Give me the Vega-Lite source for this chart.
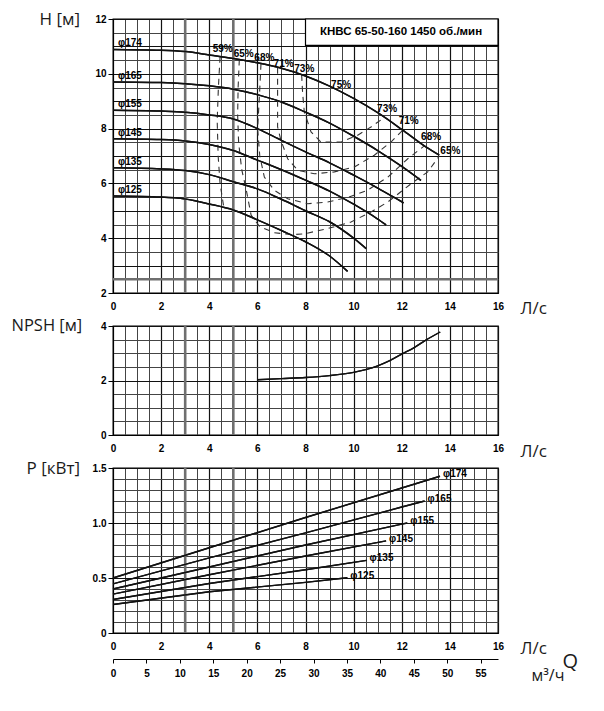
{
  "$schema": "https://vega.github.io/schema/vega-lite/v6.json",
  "background": "white",
  "padding": {"left": 10, "top": 9, "right": 5, "bottom": 5},
  "bounds": "flush",
  "spacing": 33,
  "config": {
    "view": {"stroke": "#000", "strokeWidth": 1.3},
    "font": "Liberation Sans",
    "axis": {
      "labelFont": "Liberation Sans", "labelFontSize": 10, "labelFontWeight": "bold", "labelColor": "#000",
      "titleFont": "Open Sans", "titleFontWeight": "normal", "titleColor": "#1a1a1a", "titleFontSize": 17,
      "domainColor": "#000", "tickColor": "#000", "labelFlush": false, "labelOverlap": false, "gridOpacity": 1
    },
    "axisX": {"tickSize": 4, "labelPadding": 4, "titleAlign": "left", "titleBaseline": "middle", "titleX": 407, "titleY": 15, "titleAngle": 0},
    "axisY": {"tickSize": 5, "labelPadding": 2, "titleAngle": 0, "titleAlign": "left", "titleBaseline": "middle", "titleY": 0}
  },
  "datasets": {
    "thick": [{"q": 3}, {"q": 5}],
    "base": [{"v": 2.5}],
    "box": [{"q": 8, "q2": 16, "v": 11.04, "v2": 12}],
    "boxText": [{"q": 11.97, "v": 11.53, "t": "КНВС 65-50-160 1450 об./мин"}],
    "head": [
      {"d": "φ174", "q": 0, "v": 10.89}, {"d": "φ174", "q": 2, "v": 10.86}, {"d": "φ174", "q": 3, "v": 10.81}, {"d": "φ174", "q": 4, "v": 10.69}, {"d": "φ174", "q": 5, "v": 10.56}, {"d": "φ174", "q": 6, "v": 10.4}, {"d": "φ174", "q": 7, "v": 10.2}, {"d": "φ174", "q": 8, "v": 9.92}, {"d": "φ174", "q": 9, "v": 9.55}, {"d": "φ174", "q": 10, "v": 9.1}, {"d": "φ174", "q": 11, "v": 8.58}, {"d": "φ174", "q": 12, "v": 7.97}, {"d": "φ174", "q": 13, "v": 7.33}, {"d": "φ174", "q": 13.56, "v": 7.03},
      {"d": "φ165", "q": 0, "v": 9.7}, {"d": "φ165", "q": 2, "v": 9.68}, {"d": "φ165", "q": 3, "v": 9.64}, {"d": "φ165", "q": 4, "v": 9.56}, {"d": "φ165", "q": 5, "v": 9.44}, {"d": "φ165", "q": 6, "v": 9.24}, {"d": "φ165", "q": 7, "v": 8.97}, {"d": "φ165", "q": 8, "v": 8.6}, {"d": "φ165", "q": 9, "v": 8.2}, {"d": "φ165", "q": 10, "v": 7.72}, {"d": "φ165", "q": 11, "v": 7.2}, {"d": "φ165", "q": 12, "v": 6.62}, {"d": "φ165", "q": 12.8, "v": 6.11},
      {"d": "φ155", "q": 0, "v": 8.67}, {"d": "φ155", "q": 2, "v": 8.64}, {"d": "φ155", "q": 3, "v": 8.6}, {"d": "φ155", "q": 4, "v": 8.5}, {"d": "φ155", "q": 5, "v": 8.35}, {"d": "φ155", "q": 6, "v": 8.0}, {"d": "φ155", "q": 7, "v": 7.57}, {"d": "φ155", "q": 8, "v": 7.15}, {"d": "φ155", "q": 9, "v": 6.75}, {"d": "φ155", "q": 10, "v": 6.3}, {"d": "φ155", "q": 11, "v": 5.83}, {"d": "φ155", "q": 12, "v": 5.33}, {"d": "φ155", "q": 12.08, "v": 5.29},
      {"d": "φ145", "q": 0, "v": 7.63}, {"d": "φ145", "q": 2, "v": 7.6}, {"d": "φ145", "q": 3, "v": 7.55}, {"d": "φ145", "q": 4, "v": 7.42}, {"d": "φ145", "q": 5, "v": 7.2}, {"d": "φ145", "q": 6, "v": 6.85}, {"d": "φ145", "q": 7, "v": 6.5}, {"d": "φ145", "q": 8, "v": 6.12}, {"d": "φ145", "q": 9, "v": 5.72}, {"d": "φ145", "q": 10, "v": 5.24}, {"d": "φ145", "q": 11, "v": 4.7}, {"d": "φ145", "q": 11.35, "v": 4.49},
      {"d": "φ135", "q": 0, "v": 6.57}, {"d": "φ135", "q": 2, "v": 6.53}, {"d": "φ135", "q": 3, "v": 6.47}, {"d": "φ135", "q": 4, "v": 6.32}, {"d": "φ135", "q": 5, "v": 6.06}, {"d": "φ135", "q": 6, "v": 5.8}, {"d": "φ135", "q": 7, "v": 5.42}, {"d": "φ135", "q": 8, "v": 5.0}, {"d": "φ135", "q": 9, "v": 4.6}, {"d": "φ135", "q": 10, "v": 4.0}, {"d": "φ135", "q": 10.52, "v": 3.62},
      {"d": "φ125", "q": 0, "v": 5.54}, {"d": "φ125", "q": 2, "v": 5.5}, {"d": "φ125", "q": 3, "v": 5.43}, {"d": "φ125", "q": 4, "v": 5.25}, {"d": "φ125", "q": 5, "v": 5.03}, {"d": "φ125", "q": 6, "v": 4.67}, {"d": "φ125", "q": 7, "v": 4.28}, {"d": "φ125", "q": 8, "v": 3.87}, {"d": "φ125", "q": 9, "v": 3.35}, {"d": "φ125", "q": 9.75, "v": 2.79}
    ],
    "eff": [
      {"lvl": "59%", "i": 0, "q": 4.45, "v": 10.62}, {"lvl": "59%", "i": 1, "q": 4.38, "v": 9.5}, {"lvl": "59%", "i": 2, "q": 4.33, "v": 8.3}, {"lvl": "59%", "i": 3, "q": 4.37, "v": 7.0}, {"lvl": "59%", "i": 4, "q": 4.45, "v": 6.0}, {"lvl": "59%", "i": 5, "q": 4.6, "v": 5.15},
      {"lvl": "65%", "i": 0, "q": 5.25, "v": 10.52}, {"lvl": "65%", "i": 1, "q": 5.2, "v": 9.5}, {"lvl": "65%", "i": 2, "q": 5.18, "v": 8.5}, {"lvl": "65%", "i": 3, "q": 5.22, "v": 7.5}, {"lvl": "65%", "i": 4, "q": 5.35, "v": 6.5}, {"lvl": "65%", "i": 5, "q": 5.53, "v": 5.8}, {"lvl": "65%", "i": 6, "q": 5.74, "v": 4.84}, {"lvl": "65%", "i": 7, "q": 6.1, "v": 4.42}, {"lvl": "65%", "i": 8, "q": 6.7, "v": 4.2}, {"lvl": "65%", "i": 9, "q": 7.47, "v": 4.13}, {"lvl": "65%", "i": 10, "q": 7.95, "v": 4.16}, {"lvl": "65%", "i": 11, "q": 8.92, "v": 4.35}, {"lvl": "65%", "i": 12, "q": 9.89, "v": 4.59}, {"lvl": "65%", "i": 13, "q": 10.72, "v": 4.96}, {"lvl": "65%", "i": 14, "q": 11.42, "v": 5.32}, {"lvl": "65%", "i": 15, "q": 12.39, "v": 5.99}, {"lvl": "65%", "i": 16, "q": 13.08, "v": 6.42}, {"lvl": "65%", "i": 17, "q": 13.56, "v": 7.0},
      {"lvl": "68%", "i": 0, "q": 6.15, "v": 10.37}, {"lvl": "68%", "i": 1, "q": 6.08, "v": 9.1}, {"lvl": "68%", "i": 2, "q": 6.01, "v": 8.0}, {"lvl": "68%", "i": 3, "q": 6.1, "v": 7.0}, {"lvl": "68%", "i": 4, "q": 6.29, "v": 6.23}, {"lvl": "68%", "i": 5, "q": 6.7, "v": 5.75}, {"lvl": "68%", "i": 6, "q": 7.26, "v": 5.44}, {"lvl": "68%", "i": 7, "q": 8.09, "v": 5.26}, {"lvl": "68%", "i": 8, "q": 8.92, "v": 5.32}, {"lvl": "68%", "i": 9, "q": 9.8, "v": 5.5}, {"lvl": "68%", "i": 10, "q": 10.58, "v": 5.75}, {"lvl": "68%", "i": 11, "q": 11.42, "v": 6.23}, {"lvl": "68%", "i": 12, "q": 12.25, "v": 6.9}, {"lvl": "68%", "i": 13, "q": 12.94, "v": 7.37},
      {"lvl": "71%", "i": 0, "q": 6.84, "v": 10.22}, {"lvl": "71%", "i": 1, "q": 6.84, "v": 9.0}, {"lvl": "71%", "i": 2, "q": 6.84, "v": 8.06}, {"lvl": "71%", "i": 3, "q": 6.98, "v": 7.57}, {"lvl": "71%", "i": 4, "q": 7.26, "v": 6.9}, {"lvl": "71%", "i": 5, "q": 7.68, "v": 6.48}, {"lvl": "71%", "i": 6, "q": 8.37, "v": 6.35}, {"lvl": "71%", "i": 7, "q": 9.2, "v": 6.42}, {"lvl": "71%", "i": 8, "q": 10.03, "v": 6.6}, {"lvl": "71%", "i": 9, "q": 10.86, "v": 7.03}, {"lvl": "71%", "i": 10, "q": 11.55, "v": 7.51}, {"lvl": "71%", "i": 11, "q": 12.04, "v": 7.94},
      {"lvl": "73%", "i": 0, "q": 7.84, "v": 9.96}, {"lvl": "73%", "i": 1, "q": 7.88, "v": 9.3}, {"lvl": "73%", "i": 2, "q": 7.95, "v": 8.61}, {"lvl": "73%", "i": 3, "q": 8.23, "v": 7.88}, {"lvl": "73%", "i": 4, "q": 8.64, "v": 7.51}, {"lvl": "73%", "i": 5, "q": 9.48, "v": 7.51}, {"lvl": "73%", "i": 6, "q": 10.17, "v": 7.76}, {"lvl": "73%", "i": 7, "q": 10.72, "v": 8.06}, {"lvl": "73%", "i": 8, "q": 11.3, "v": 8.42}
    ],
    "effLab": [
      {"t": "59%", "q": 4.56, "v": 10.9}, {"t": "65%", "q": 5.43, "v": 10.73}, {"t": "68%", "q": 6.29, "v": 10.58}, {"t": "71%", "q": 7.09, "v": 10.37}, {"t": "73%", "q": 7.95, "v": 10.16},
      {"t": "75%", "q": 9.48, "v": 9.58}, {"t": "73%", "q": 11.39, "v": 8.73}, {"t": "71%", "q": 12.29, "v": 8.27}, {"t": "68%", "q": 13.22, "v": 7.69}, {"t": "65%", "q": 14.02, "v": 7.17}
    ],
    "npsh": [
      {"q": 6.0, "v": 2.03}, {"q": 7, "v": 2.07}, {"q": 8, "v": 2.11}, {"q": 9, "v": 2.18}, {"q": 10, "v": 2.3}, {"q": 10.5, "v": 2.4}, {"q": 11, "v": 2.54}, {"q": 11.5, "v": 2.73}, {"q": 12, "v": 2.97}, {"q": 12.5, "v": 3.2}, {"q": 13, "v": 3.48}, {"q": 13.6, "v": 3.78}
    ],
    "power": [
      {"d": "φ174", "q": 0, "v": 0.5}, {"d": "φ174", "q": 4, "v": 0.775}, {"d": "φ174", "q": 8, "v": 1.05}, {"d": "φ174", "q": 12, "v": 1.318}, {"d": "φ174", "q": 13.59, "v": 1.425},
      {"d": "φ165", "q": 0, "v": 0.447}, {"d": "φ165", "q": 4, "v": 0.683}, {"d": "φ165", "q": 8, "v": 0.91}, {"d": "φ165", "q": 12, "v": 1.145}, {"d": "φ165", "q": 12.95, "v": 1.2},
      {"d": "φ155", "q": 0, "v": 0.4}, {"d": "φ155", "q": 4, "v": 0.6}, {"d": "φ155", "q": 8, "v": 0.8}, {"d": "φ155", "q": 12, "v": 0.99}, {"d": "φ155", "q": 12.23, "v": 1.0},
      {"d": "φ145", "q": 0, "v": 0.353}, {"d": "φ145", "q": 4, "v": 0.53}, {"d": "φ145", "q": 8, "v": 0.7}, {"d": "φ145", "q": 11.35, "v": 0.837},
      {"d": "φ135", "q": 0, "v": 0.304}, {"d": "φ135", "q": 4, "v": 0.45}, {"d": "φ135", "q": 8, "v": 0.575}, {"d": "φ135", "q": 10.54, "v": 0.66},
      {"d": "φ125", "q": 0, "v": 0.259}, {"d": "φ125", "q": 4, "v": 0.375}, {"d": "φ125", "q": 8, "v": 0.46}, {"d": "φ125", "q": 9.74, "v": 0.502}
    ],
    "qmark": [{"t": "Q"}]
  },
  "vconcat": [
    {
      "width": 385,
      "height": 274,
      "resolve": {"axis": {"x": "independent", "y": "independent"}},
      "layer": [
        {
          "data": {"name": "head"},
          "mark": {"type": "line", "color": "#111", "strokeWidth": 1.5, "interpolate": "monotone"},
          "encoding": {
            "x": {
              "field": "q", "type": "quantitative",
              "scale": {"domain": [0, 16], "nice": false},
              "axis": {
                "orient": "bottom", "title": "Л/с", "tickOpacity": 0,
                "values": [0, 0.5, 1, 1.5, 2, 2.5, 3, 3.5, 4, 4.5, 5, 5.5, 6, 6.5, 7, 7.5, 8, 8.5, 9, 9.5, 10, 10.5, 11, 11.5, 12, 12.5, 13, 13.5, 14, 14.5, 15, 15.5, 16],
                "labelExpr": "datum.value % 2 === 0 ? format(datum.value, 'd') : ''",
                "gridColor": {"condition": {"test": "datum.value % 2 === 0", "value": "#111"}, "value": "#444"},
                "gridWidth": {"condition": {"test": "datum.value % 2 === 0", "value": 1.2}, "value": 1}
              }
            },
            "y": {
              "field": "v", "type": "quantitative",
              "scale": {"domain": [2, 12], "nice": false, "zero": false},
              "axis": {
                "orient": "left", "title": "H [м]", "titleX": -74,
                "values": [2, 2.5, 3, 3.5, 4, 4.5, 5, 5.5, 6, 6.5, 7, 7.5, 8, 8.5, 9, 9.5, 10, 10.5, 11, 11.5, 12],
                "labelExpr": "datum.value % 2 === 0 ? format(datum.value, 'd') : ''",
                "tickOpacity": {"condition": {"test": "datum.value % 2 === 0", "value": 1}, "value": 0},
                "gridColor": {"condition": {"test": "datum.value % 1 === 0", "value": "#111"}, "value": "#444"},
                "gridWidth": {"condition": {"test": "datum.value % 1 === 0", "value": 1.2}, "value": 1}
              }
            },
            "detail": {"field": "d"}
          }
        },
        {
          "data": {"name": "thick"},
          "mark": {"type": "rule", "color": "#6f6f6f", "strokeWidth": 2.6},
          "encoding": {"x": {"field": "q", "type": "quantitative", "axis": null}}
        },
        {
          "data": {"name": "base"},
          "mark": {"type": "rule", "color": "#6f6f6f", "strokeWidth": 2.6},
          "encoding": {"y": {"field": "v", "type": "quantitative", "axis": null}}
        },
        {
          "data": {"name": "eff"},
          "mark": {"type": "line", "color": "#333", "strokeWidth": 1.1, "strokeDash": [6, 5]},
          "encoding": {
            "x": {"field": "q", "type": "quantitative", "axis": null},
            "y": {"field": "v", "type": "quantitative", "axis": null},
            "detail": {"field": "lvl"},
            "order": {"field": "i"}
          }
        },
        {
          "data": {"name": "head"},
          "mark": {"type": "line", "color": "#111", "strokeWidth": 1.5, "interpolate": "monotone"},
          "encoding": {
            "x": {"field": "q", "type": "quantitative", "axis": null},
            "y": {"field": "v", "type": "quantitative", "axis": null},
            "detail": {"field": "d"}
          }
        },
        {
          "data": {"name": "head"},
          "transform": [{"filter": "datum.q === 0"}],
          "mark": {"type": "text", "align": "left", "baseline": "middle", "dx": 5, "dy": -6, "font": "Liberation Sans", "fontWeight": "bold", "fontSize": 10, "color": "#000"},
          "encoding": {
            "x": {"field": "q", "type": "quantitative", "axis": null},
            "y": {"field": "v", "type": "quantitative", "axis": null},
            "text": {"field": "d"}
          }
        },
        {
          "data": {"name": "effLab"},
          "mark": {"type": "text", "align": "center", "baseline": "middle", "font": "Liberation Sans", "fontWeight": "bold", "fontSize": 10, "color": "#000"},
          "encoding": {
            "x": {"field": "q", "type": "quantitative", "axis": null},
            "y": {"field": "v", "type": "quantitative", "axis": null},
            "text": {"field": "t"}
          }
        },
        {
          "data": {"name": "box"},
          "mark": {"type": "rect", "fill": "white", "stroke": "#000", "strokeWidth": 1.2},
          "encoding": {
            "x": {"field": "q", "type": "quantitative", "axis": null},
            "x2": {"field": "q2"},
            "y": {"field": "v", "type": "quantitative", "axis": null},
            "y2": {"field": "v2"}
          }
        },
        {
          "data": {"name": "boxText"},
          "mark": {"type": "text", "align": "center", "baseline": "middle", "font": "Liberation Sans", "fontWeight": "bold", "fontSize": 11.5, "color": "#000"},
          "encoding": {
            "x": {"field": "q", "type": "quantitative", "axis": null},
            "y": {"field": "v", "type": "quantitative", "axis": null},
            "text": {"field": "t"}
          }
        }
      ]
    },
    {
      "width": 385,
      "height": 109,
      "resolve": {"axis": {"x": "independent", "y": "independent"}},
      "layer": [
        {
          "data": {"name": "npsh"},
          "mark": {"type": "line", "color": "#111", "strokeWidth": 1.4, "interpolate": "monotone"},
          "encoding": {
            "x": {
              "field": "q", "type": "quantitative",
              "scale": {"domain": [0, 16], "nice": false},
              "axis": {
                "orient": "bottom", "title": "Л/с", "titleY": 16, "tickOpacity": 0,
                "values": [0, 0.5, 1, 1.5, 2, 2.5, 3, 3.5, 4, 4.5, 5, 5.5, 6, 6.5, 7, 7.5, 8, 8.5, 9, 9.5, 10, 10.5, 11, 11.5, 12, 12.5, 13, 13.5, 14, 14.5, 15, 15.5, 16],
                "labelExpr": "datum.value % 2 === 0 ? format(datum.value, 'd') : ''",
                "gridColor": {"condition": {"test": "datum.value % 2 === 0", "value": "#111"}, "value": "#444"},
                "gridWidth": {"condition": {"test": "datum.value % 2 === 0", "value": 1.2}, "value": 1}
              }
            },
            "y": {
              "field": "v", "type": "quantitative",
              "scale": {"domain": [0, 4], "nice": false},
              "axis": {
                "orient": "left", "title": "NPSH [м]", "titleX": -102, "titleY": -1, "titleFontSize": 16.5,
                "values": [0, 0.5, 1, 1.5, 2, 2.5, 3, 3.5, 4],
                "labelExpr": "datum.value % 2 === 0 ? format(datum.value, 'd') : ''",
                "tickOpacity": {"condition": {"test": "datum.value % 2 === 0", "value": 1}, "value": 0},
                "gridColor": {"condition": {"test": "datum.value % 2 === 0", "value": "#111"}, "value": "#444"},
                "gridWidth": {"condition": {"test": "datum.value % 2 === 0", "value": 1.2}, "value": 1}
              }
            }
          }
        },
        {
          "data": {"name": "thick"},
          "mark": {"type": "rule", "color": "#6f6f6f", "strokeWidth": 2.6},
          "encoding": {"x": {"field": "q", "type": "quantitative", "axis": null}}
        },
        {
          "data": {"name": "npsh"},
          "mark": {"type": "line", "color": "#111", "strokeWidth": 1.4, "interpolate": "monotone"},
          "encoding": {
            "x": {"field": "q", "type": "quantitative", "axis": null},
            "y": {"field": "v", "type": "quantitative", "axis": null}
          }
        }
      ]
    },
    {
      "width": 385,
      "height": 165,
      "resolve": {"scale": {"x": "independent"}, "axis": {"x": "independent", "y": "independent"}},
      "layer": [
        {
          "data": {"name": "power"},
          "mark": {"type": "line", "color": "#111", "strokeWidth": 1.4},
          "encoding": {
            "x": {
              "field": "q", "type": "quantitative",
              "scale": {"domain": [0, 16], "nice": false},
              "axis": {
                "orient": "bottom", "title": "Л/с", "tickOpacity": 0,
                "values": [0, 0.5, 1, 1.5, 2, 2.5, 3, 3.5, 4, 4.5, 5, 5.5, 6, 6.5, 7, 7.5, 8, 8.5, 9, 9.5, 10, 10.5, 11, 11.5, 12, 12.5, 13, 13.5, 14, 14.5, 15, 15.5, 16],
                "labelExpr": "datum.value % 2 === 0 ? format(datum.value, 'd') : ''",
                "gridColor": {"condition": {"test": "datum.value % 2 === 0", "value": "#111"}, "value": "#444"},
                "gridWidth": {"condition": {"test": "datum.value % 2 === 0", "value": 1.2}, "value": 1}
              }
            },
            "y": {
              "field": "v", "type": "quantitative",
              "scale": {"domain": [0, 1.5], "nice": false},
              "axis": {
                "orient": "left", "title": "P [кВт]", "titleX": -87,
                "values": [0, 0.1, 0.2, 0.3, 0.4, 0.5, 0.6, 0.7, 0.8, 0.9, 1.0, 1.1, 1.2, 1.3, 1.4, 1.5],
                "labelExpr": "round(datum.value * 10) % 5 === 0 ? (datum.value === 0 ? '0' : format(datum.value, '.1f')) : ''",
                "tickOpacity": {"condition": {"test": "round(datum.value * 10) % 5 === 0", "value": 1}, "value": 0},
                "gridColor": {"condition": {"test": "round(datum.value * 10) % 5 === 0", "value": "#111"}, "value": "#444"},
                "gridWidth": {"condition": {"test": "round(datum.value * 10) % 5 === 0", "value": 1.2}, "value": 1}
              }
            },
            "detail": {"field": "d"}
          }
        },
        {
          "data": {"name": "thick"},
          "mark": {"type": "rule", "color": "#6f6f6f", "strokeWidth": 2.6},
          "encoding": {"x": {"field": "q", "type": "quantitative", "scale": {"domain": [0, 16], "nice": false}, "axis": null}}
        },
        {
          "data": {"name": "power"},
          "mark": {"type": "line", "color": "#111", "strokeWidth": 1.4},
          "encoding": {
            "x": {"field": "q", "type": "quantitative", "scale": {"domain": [0, 16], "nice": false}, "axis": null},
            "y": {"field": "v", "type": "quantitative", "axis": null},
            "detail": {"field": "d"}
          }
        },
        {
          "data": {"name": "power"},
          "transform": [
            {"joinaggregate": [{"op": "max", "field": "q", "as": "qmax"}], "groupby": ["d"]},
            {"filter": "datum.q === datum.qmax"}
          ],
          "mark": {"type": "text", "align": "left", "baseline": "middle", "dx": 3, "dy": -2, "font": "Liberation Sans", "fontWeight": "bold", "fontSize": 10, "color": "#000"},
          "encoding": {
            "x": {"field": "q", "type": "quantitative", "scale": {"domain": [0, 16], "nice": false}, "axis": null},
            "y": {"field": "v", "type": "quantitative", "axis": null},
            "text": {"field": "d"}
          }
        },
        {
          "data": {"name": "qmark"},
          "mark": {"type": "text", "align": "center", "baseline": "middle", "font": "Open Sans", "fontSize": 20, "color": "#1a1a1a"},
          "encoding": {
            "x": {
              "datum": 68.4, "type": "quantitative",
              "scale": {"domain": [0, 57.6], "nice": false},
              "axis": {
                "orient": "bottom", "offset": 26, "title": "м³/ч", "titleX": 418, "titleY": 16, "titleFontSize": 16,
                "values": [0, 5, 10, 15, 20, 25, 30, 35, 40, 45, 50, 55],
                "grid": false, "tickSize": 4, "labelPadding": 5
              }
            },
            "y": {"datum": -0.264, "type": "quantitative", "axis": null},
            "text": {"field": "t"}
          }
        }
      ]
    }
  ]
}
